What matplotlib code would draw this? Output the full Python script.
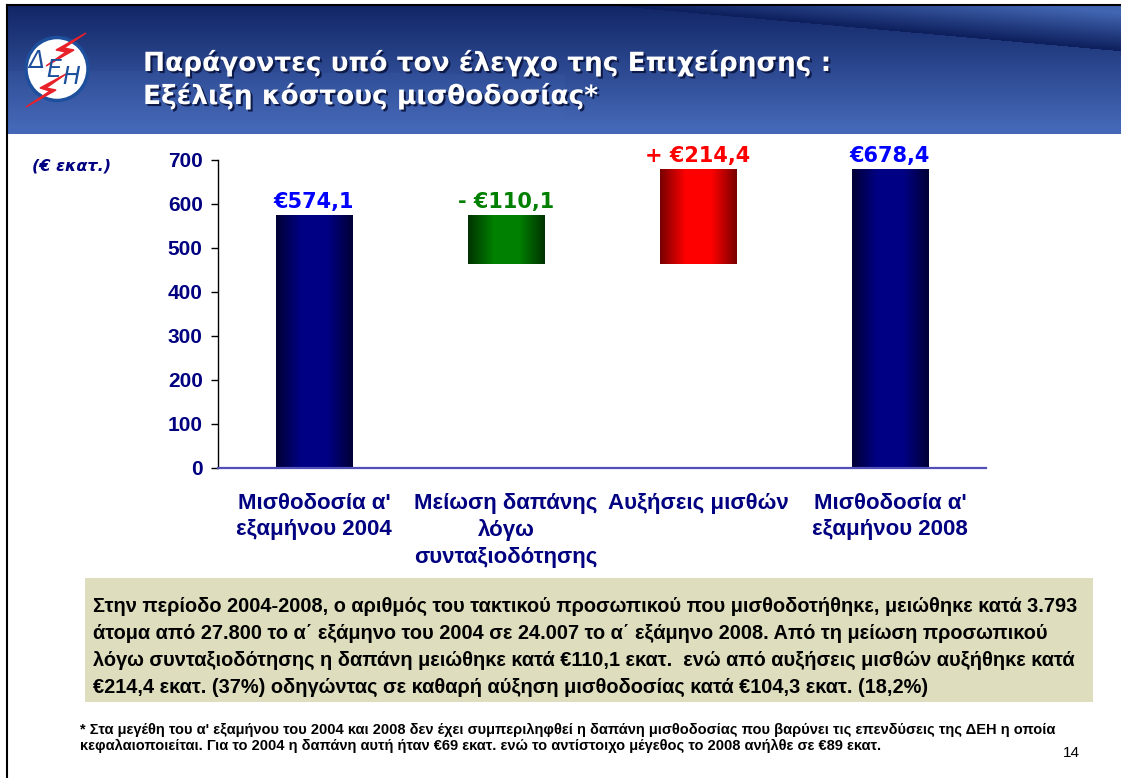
import numpy as np
import matplotlib
matplotlib.use('Agg')
import matplotlib.pyplot as plt
import matplotlib.patches as mpatches
import matplotlib.patheffects as pe
from matplotlib.colors import LinearSegmentedColormap

# δεδομένα (€ εκατ.)
categories = ["Μισθοδοσία α'\nεξαμήνου 2004", "Μείωση δαπάνης\nλόγω\nσυνταξιοδότησης",
              "Αυξήσεις μισθών", "Μισθοδοσία α'\nεξαμήνου 2008"]
payroll_2004 = 574.1
pension_cut = 110.1
wage_rise = 214.4
payroll_2008 = 678.4
value_labels = ["€574,1", "- €110,1", "+ €214,4", "€678,4"]
yticks = [0, 100, 200, 300, 400, 500, 600, 700]

heights = [payroll_2004, pension_cut, wage_rise, payroll_2008]
bottoms = [0, payroll_2004 - pension_cut, payroll_2004 - pension_cut, 0]

W, H = 1121, 778
fig = plt.figure(figsize=(W / 100, H / 100), dpi=100)

# φόντο σε συντεταγμένες pixel
bg = fig.add_axes([0, 0, 1, 1], zorder=0)
bg.set_xlim(0, W)
bg.set_ylim(H, 0)
bg.axis('off')

# κεφαλίδα με διαβάθμιση
hx0, hx1, hy0, hy1 = 8, W, 6, 134
nx, ny = hx1 - hx0, hy1 - hy0
xx, yy = np.meshgrid(np.arange(nx) / nx, np.arange(ny) / ny)
top_c = np.array([0.07, 0.15, 0.40])
bot_c = np.array([0.27, 0.41, 0.72])
t = np.clip(yy * 1.05, 0, 1)[..., None]
img = top_c * (1 - t) + bot_c * t
# φωτεινή σφήνα πάνω δεξιά
line_y = 0.35 * np.clip((xx - 0.55) / 0.45, 0, 1)
wedge = (yy < line_y) & (xx > 0.55)
fade = np.clip((line_y - yy) / 0.3, 0, 1)
light = np.array([0.26, 0.40, 0.70])
img[wedge] = light * fade[wedge][:, None] + np.array([0.05, 0.12, 0.36]) * (1 - fade[wedge][:, None])
# φωτεινή λωρίδα κάτω αριστερά
band = (yy > 0.5 + 0.06 * xx) & (xx < 0.5)
img[band] = img[band] * 0.85 + bot_c * 0.15
bg.imshow(img, extent=[hx0, hx1, hy1, hy0], aspect='auto', zorder=1)
bg.plot([7, W], [5, 5], color='black', lw=1.5, zorder=3)
bg.plot([7, 7], [5, H], color='black', lw=1.5, zorder=3)

# λογότυπο ΔΕΗ
bg.add_patch(mpatches.Ellipse((57, 69), 62, 63, facecolor='white', edgecolor='#1d4f9c', lw=2.5, zorder=4))
bg.add_patch(mpatches.Polygon([(86, 33), (56, 50), (66, 52), (46, 66), (74, 50), (64, 48)],
                              closed=True, color='#e8202a', zorder=5))
bg.add_patch(mpatches.Polygon([(26, 107), (56, 90), (46, 88), (66, 74), (40, 88), (50, 91)],
                              closed=True, color='#e8202a', zorder=5))
for ch, lx, ly in [('Δ', 37, 61), ('Ε', 54, 70), ('Η', 71, 77)]:
    bg.text(lx, ly, ch, color='#1d4f9c', fontsize=17, style='italic', ha='center', va='center',
            family='DejaVu Sans', zorder=6)

shadow = [pe.SimplePatchShadow(offset=(1.5, -1.5), shadow_rgbFace='#0a1540', alpha=0.9), pe.Normal()]
bg.text(143, 63, 'Παράγοντες υπό τον έλεγχο της Επιχείρησης :', color='white', fontsize=19,
        fontweight='bold', family='DejaVu Sans', va='center', zorder=6, path_effects=shadow)
bg.text(143, 96, 'Εξέλιξη κόστους μισθοδοσίας*', color='white', fontsize=19,
        fontweight='bold', family='DejaVu Sans', va='center', zorder=6, path_effects=shadow)

bg.text(72, 166, '(€ εκατ.)', color='#000080', fontsize=11.5, fontweight='bold', style='italic',
        family='DejaVu Sans', ha='center', va='center')

# πλαίσιο σχολίου
bg.add_patch(mpatches.Rectangle((85, 578), 1008, 124, facecolor='#DEDEBF', edgecolor='none', zorder=1))
note = ("Στην περίοδο 2004-2008, ο αριθμός του τακτικού προσωπικού που μισθοδοτήθηκε, μειώθηκε κατά 3.793\n"
        "άτομα από 27.800 το α΄ εξάμηνο του 2004 σε 24.007 το α΄ εξάμηνο 2008. Από τη μείωση προσωπικού\n"
        "λόγω συνταξιοδότησης η δαπάνη μειώθηκε κατά €110,1 εκατ.  ενώ από αυξήσεις μισθών αυξήθηκε κατά\n"
        "€214,4 εκατ. (37%) οδηγώντας σε καθαρή αύξηση μισθοδοσίας κατά €104,3 εκατ. (18,2%)")
bg.text(93, 647, note, fontsize=14.4, fontweight='bold', family='Liberation Sans', va='center',
        ha='left', linespacing=1.55, zorder=2)

foot = ("* Στα μεγέθη του α' εξαμήνου του 2004 και 2008 δεν έχει συμπεριληφθεί η δαπάνη μισθοδοσίας που βαρύνει τις επενδύσεις της ΔΕΗ η οποία\n"
        "κεφαλαιοποιείται. Για το 2004 η δαπάνη αυτή ήταν €69 εκατ. ενώ το αντίστοιχο μέγεθος το 2008 ανήλθε σε €89 εκατ.")
bg.text(80, 738, foot, fontsize=10.5, fontweight='bold', family='Liberation Sans', va='center',
        ha='left', linespacing=1.2)
bg.text(1063, 753, '14', fontsize=11, family='Liberation Sans', va='center', ha='left')

# γράφημα καταρράκτη
ax = fig.add_axes([218 / W, 1 - 468 / H, (986 - 218) / W, (468 - 160) / H], zorder=2)
ax.patch.set_alpha(0)
x = np.arange(len(categories))
bars = ax.bar(x, heights, bottom=bottoms, width=0.4, color='none', edgecolor='none')

grads = [('#000035', '#000085'), ('#003200', '#008000'), ('#780000', '#ff0000'), ('#000035', '#000085')]
label_colors = ['#0000FF', '#008000', '#FF0000', '#0000FF']
ramp = np.linspace(0, 1, 256).reshape(1, -1)
for b, (edge, mid), lab, lc in zip(bars, grads, value_labels, label_colors):
    cmap = LinearSegmentedColormap.from_list('g', [edge, mid, mid, edge], N=256)
    x0, y0 = b.get_x(), b.get_y()
    ax.imshow(ramp, cmap=cmap, extent=[x0, x0 + b.get_width(), y0, y0 + b.get_height()],
              aspect='auto', zorder=2)
    ax.text(x0 + b.get_width() / 2, y0 + b.get_height() + 8, lab, color=lc, fontsize=15,
            fontweight='bold', family='DejaVu Sans', ha='center', va='bottom')

ax.set_xlim(-0.5, 3.5)
ax.set_ylim(0, 700)
ax.set_yticks(yticks)
ax.set_xticks(x)
ax.set_xticklabels(categories, fontsize=16, fontweight='bold', family='Liberation Sans',
                   color='#000080', linespacing=1.32)
ax.tick_params(axis='x', length=0, pad=18)
ax.tick_params(axis='y', length=5, width=1, pad=6, labelsize=15, labelcolor='#000080')
for lbl in ax.get_yticklabels():
    lbl.set_fontweight('bold')
    lbl.set_family('Liberation Sans')
ax.spines['top'].set_visible(False)
ax.spines['right'].set_visible(False)
ax.spines['bottom'].set_color('#5050B8')
ax.spines['bottom'].set_linewidth(1.6)
ax.spines['left'].set_linewidth(1)

fig.savefig('out.png', dpi=100)
